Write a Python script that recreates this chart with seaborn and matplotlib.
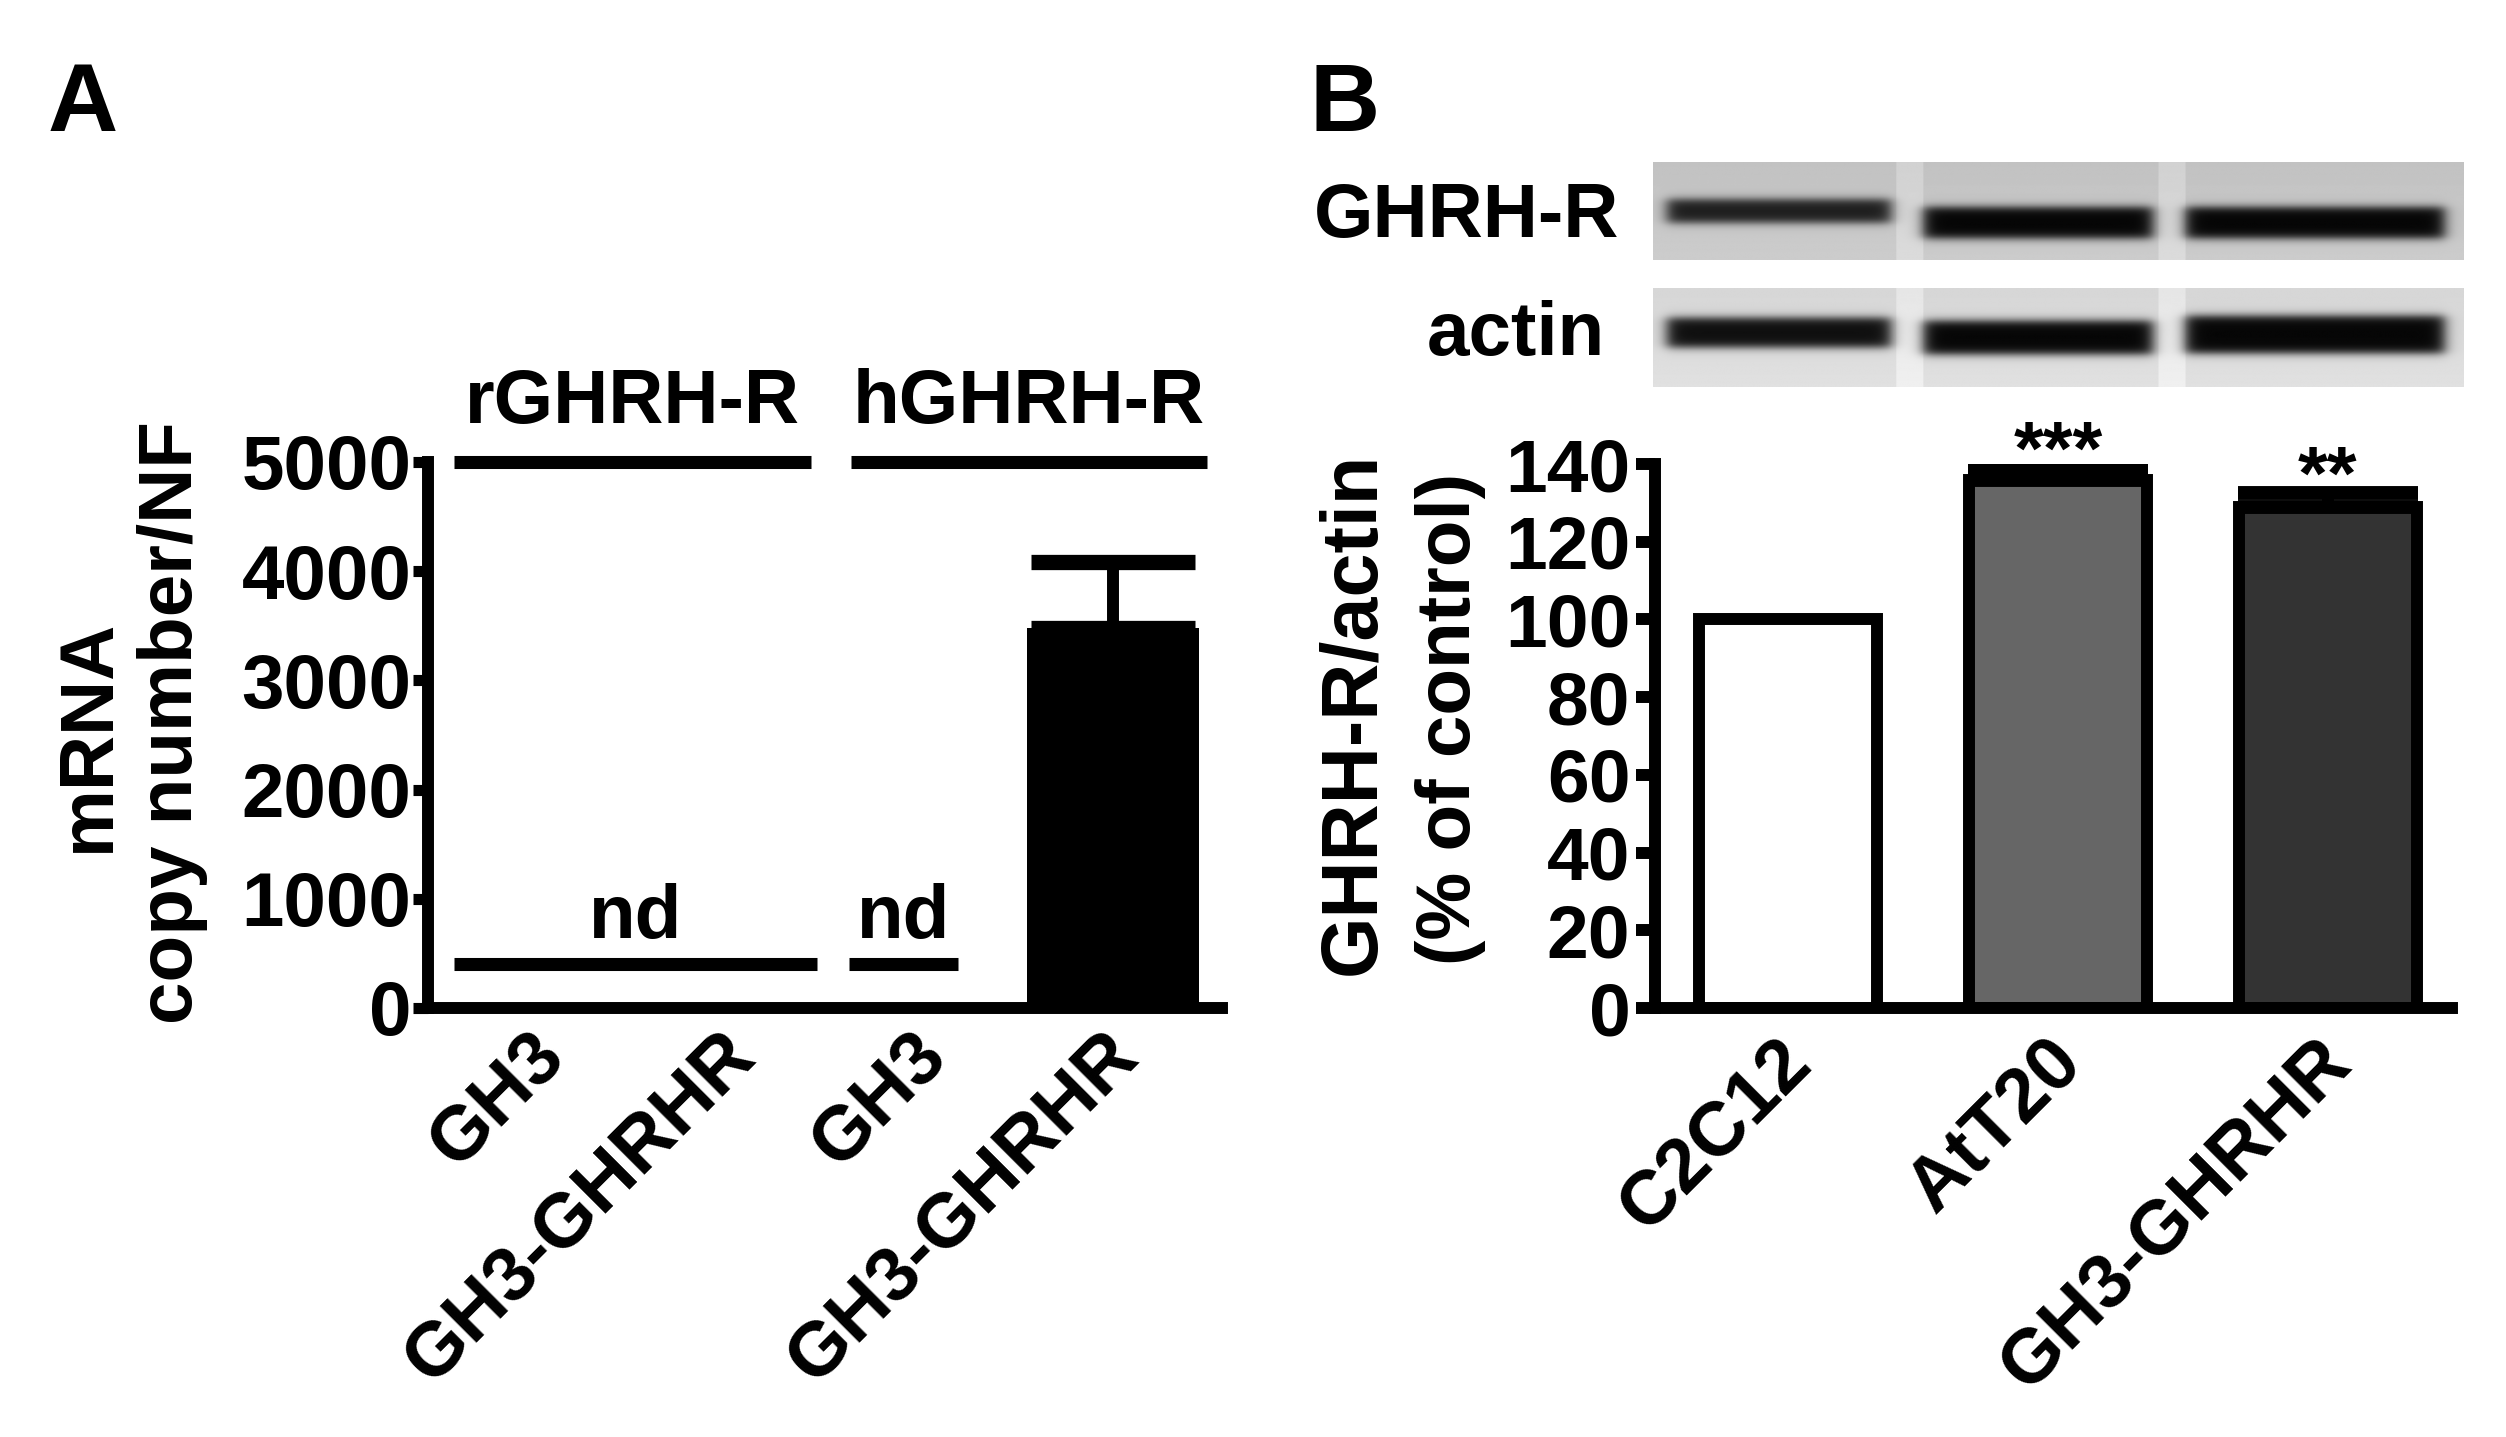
import numpy as np
import pandas as pd
import matplotlib
matplotlib.use("Agg")
import matplotlib.pyplot as plt
import matplotlib.transforms as mtransforms
import seaborn as sns

# ---------- data ----------
# A: mRNA copy number / NF (nd = not detected, drawn as 0)
a_keys = ["rGH3", "rGH3-GHRHR", "hGH3", "hGH3-GHRHR"]
a_labels = ["GH3", "GH3-GHRHR", "GH3", "GH3-GHRHR"]
a_copies = [0, 0, 0, 3480]
a_sem = [0, 0, 0, 600]
a_groups = ["rGHRH-R", "hGHRH-R"]
a_nd_level = 400

# B: GHRH-R / actin densitometry (% of control)
b_cells = ["C2C12", "AtT20", "GH3-GHRHR"]
b_ratio = [100, 136, 129]
b_sem = [0, 3, 3.5]
b_stars = ["", "***", "**"]
b_colors = ["#ffffff", "#666666", "#333333"]

# western blot bands: relative darkness per lane
ghrhr_band = [0.85, 0.97, 0.97]
actin_band = [0.93, 0.97, 0.97]

# ---------- layout ----------
W, H = 2506, 1437
LW = 8.6
FS = 55
group_spans = [(-0.45, 1.42), (1.63, 3.49)]
nd_spans = [(-0.45, 1.45), (1.62, 2.19)]


def fx(x):
    return x / W


def fy(y):
    return 1 - y / H


sns.set_style("ticks")
plt.rcParams["font.family"] = ["Liberation Sans", "DejaVu Sans"]
plt.rcParams["font.weight"] = "bold"
for key in ["text.color", "axes.labelcolor", "xtick.color", "ytick.color", "axes.edgecolor"]:
    plt.rcParams[key] = "black"

fig = plt.figure(figsize=(W / 100, H / 100), dpi=100)


def shift_xlabels(ax, dx_pt):
    off = mtransforms.ScaledTranslation(dx_pt / 72, 0, fig.dpi_scale_trans)
    for lbl in ax.get_xticklabels():
        lbl.set_transform(lbl.get_transform() + off)


# ---------- panel A ----------
ax_a = fig.add_axes([fx(428), fy(1008), (1222 - 428) / W, (1008 - 462) / H])
df_a = pd.DataFrame({"key": a_keys, "copies": a_copies})
sns.barplot(data=df_a, x="key", y="copies", hue="key", palette=["black"] * 4,
            legend=False, errorbar=None, width=0.9, saturation=1, linewidth=0, ax=ax_a)
for i, (m, s) in enumerate(zip(a_copies, a_sem)):
    if s > 0:
        ax_a.errorbar(i, m, yerr=[[0], [s]], fmt="none", ecolor="black",
                      elinewidth=LW, capsize=59, capthick=11)

ax_a.set_xlim(-0.586, 3.57)
ax_a.set_ylim(0, 5000)
ax_a.set_yticks(range(0, 5001, 1000))
ax_a.set_xticks(range(len(a_labels)))
ax_a.set_xticklabels(a_labels, rotation=45, ha="right", va="center",
                     rotation_mode="anchor", fontsize=FS)
ax_a.tick_params(axis="y", length=10.8, width=8, labelsize=FS, pad=1)
ax_a.tick_params(axis="x", length=0, pad=26)
shift_xlabels(ax_a, 10)
ax_a.set_xlabel("")
ax_a.set_ylabel("")
sns.despine(ax=ax_a)
for sp in ["left", "bottom"]:
    ax_a.spines[sp].set_linewidth(LW)

for name, (x0, x1) in zip(a_groups, group_spans):
    ax_a.plot([x0, x1], [5000, 5000], color="black", lw=9.4,
              solid_capstyle="butt", clip_on=False)
    ax_a.annotate(name, xy=((x0 + x1) / 2, 5000), xytext=(0, 28),
                  textcoords="offset points", ha="center", va="baseline",
                  fontsize=FS, annotation_clip=False)
for x0, x1 in nd_spans:
    ax_a.plot([x0, x1], [a_nd_level, a_nd_level], color="black", lw=9.4,
              solid_capstyle="butt", clip_on=False)
    ax_a.annotate("nd", xy=((x0 + x1) / 2, a_nd_level), xytext=(0, 19),
                  textcoords="offset points", ha="center", va="baseline",
                  fontsize=FS)

fig.text(fx(109), fy(735), "mRNA", rotation=90, rotation_mode="anchor",
         ha="center", va="baseline", fontsize=FS)
fig.text(fx(192), fy(723), "copy number/NF", rotation=90, rotation_mode="anchor",
         ha="center", va="baseline", fontsize=FS)
fig.text(fx(48), fy(131), "A", ha="left", va="baseline", fontsize=70)

# ---------- panel B ----------
ax_b = fig.add_axes([fx(1655), fy(1008), (2452 - 1655) / W, (1008 - 464) / H])
df_b = pd.DataFrame({"cell": b_cells, "ratio": b_ratio})
sns.barplot(data=df_b, x="cell", y="ratio", hue="cell", palette=b_colors,
            legend=False, errorbar=None, width=0.66, saturation=1,
            edgecolor="black", linewidth=LW, ax=ax_b)
for i, (m, s, st) in enumerate(zip(b_ratio, b_sem, b_stars)):
    if s > 0:
        ax_b.errorbar(i, m, yerr=[[0], [s]], fmt="none", ecolor="black",
                      elinewidth=LW, capsize=65, capthick=10)
    if st:
        ax_b.annotate(st, xy=(i, m + s), xytext=(0, -4),
                      textcoords="offset points", ha="center", va="baseline",
                      fontsize=FS, annotation_clip=False)

ax_b.set_xlim(-0.493, 2.46)
ax_b.set_ylim(0, 140)
ax_b.set_yticks(range(0, 141, 20))
ax_b.set_xticks(range(len(b_cells)))
ax_b.set_xticklabels(b_cells, rotation=45, ha="right", va="center",
                     rotation_mode="anchor", fontsize=FS)
ax_b.tick_params(axis="y", length=13.7, width=8.6, labelsize=FS - 1, pad=4)
ax_b.tick_params(axis="x", length=0, pad=31)
shift_xlabels(ax_b, 9)
ax_b.set_xlabel("")
ax_b.set_ylabel("")
sns.despine(ax=ax_b)
for sp in ["left", "bottom"]:
    ax_b.spines[sp].set_linewidth(LW)

fig.text(fx(1374), fy(713), "GHRH-R/actin", rotation=90, rotation_mode="anchor",
         ha="center", va="baseline", fontsize=FS + 2)
fig.text(fx(1470), fy(719), "(% of control)", rotation=90, rotation_mode="anchor",
         ha="center", va="baseline", fontsize=FS)
fig.text(fx(1310), fy(131), "B", ha="left", va="baseline", fontsize=70)


# ---------- western blots ----------
def blot_image(strength, centers, halfs, bg):
    u = np.linspace(0, 3, 900)
    v = np.linspace(0, 1, 120)
    U, V = np.meshgrid(u, v)
    img = np.full_like(U, bg)
    img = img + 0.04 * V  # slightly lighter towards the bottom
    seps = [0.95, 1.92]
    for g in seps:
        img = np.where(np.abs(U - g) < 0.05, img + 0.06, img)
    edges = [0.0] + seps + [3.0]
    for i, (s, c, h) in enumerate(zip(strength, centers, halfs)):
        lo, hi = edges[i] + 0.05, edges[i + 1] - 0.07
        mx = 1 / (1 + np.exp((np.abs(U - (lo + hi) / 2) - (hi - lo) / 2) / 0.015))
        my = 1 / (1 + np.exp((np.abs(V - c) - h) / 0.025))
        img = img * (1 - s * mx * my)
    return np.clip(img, 0, 1)


blots = [
    ("GHRH-R", 162, 260, 237, 1619,
     blot_image(ghrhr_band, [0.5, 0.62, 0.62], [0.12, 0.16, 0.16], 0.76)),
    ("actin", 288, 387, 355, 1605,
     blot_image(actin_band, [0.45, 0.5, 0.47], [0.15, 0.17, 0.19], 0.84)),
]
for name, top, bot, base, right, img in blots:
    bx = fig.add_axes([fx(1653), fy(bot), 811 / W, (bot - top) / H])
    bx.imshow(img, cmap="gray", vmin=0, vmax=1, aspect="auto",
              interpolation="bilinear")
    bx.set_axis_off()
    fig.text(fx(right), fy(base), name, ha="right", va="baseline", fontsize=FS)

fig.savefig("out.png", dpi=100)
